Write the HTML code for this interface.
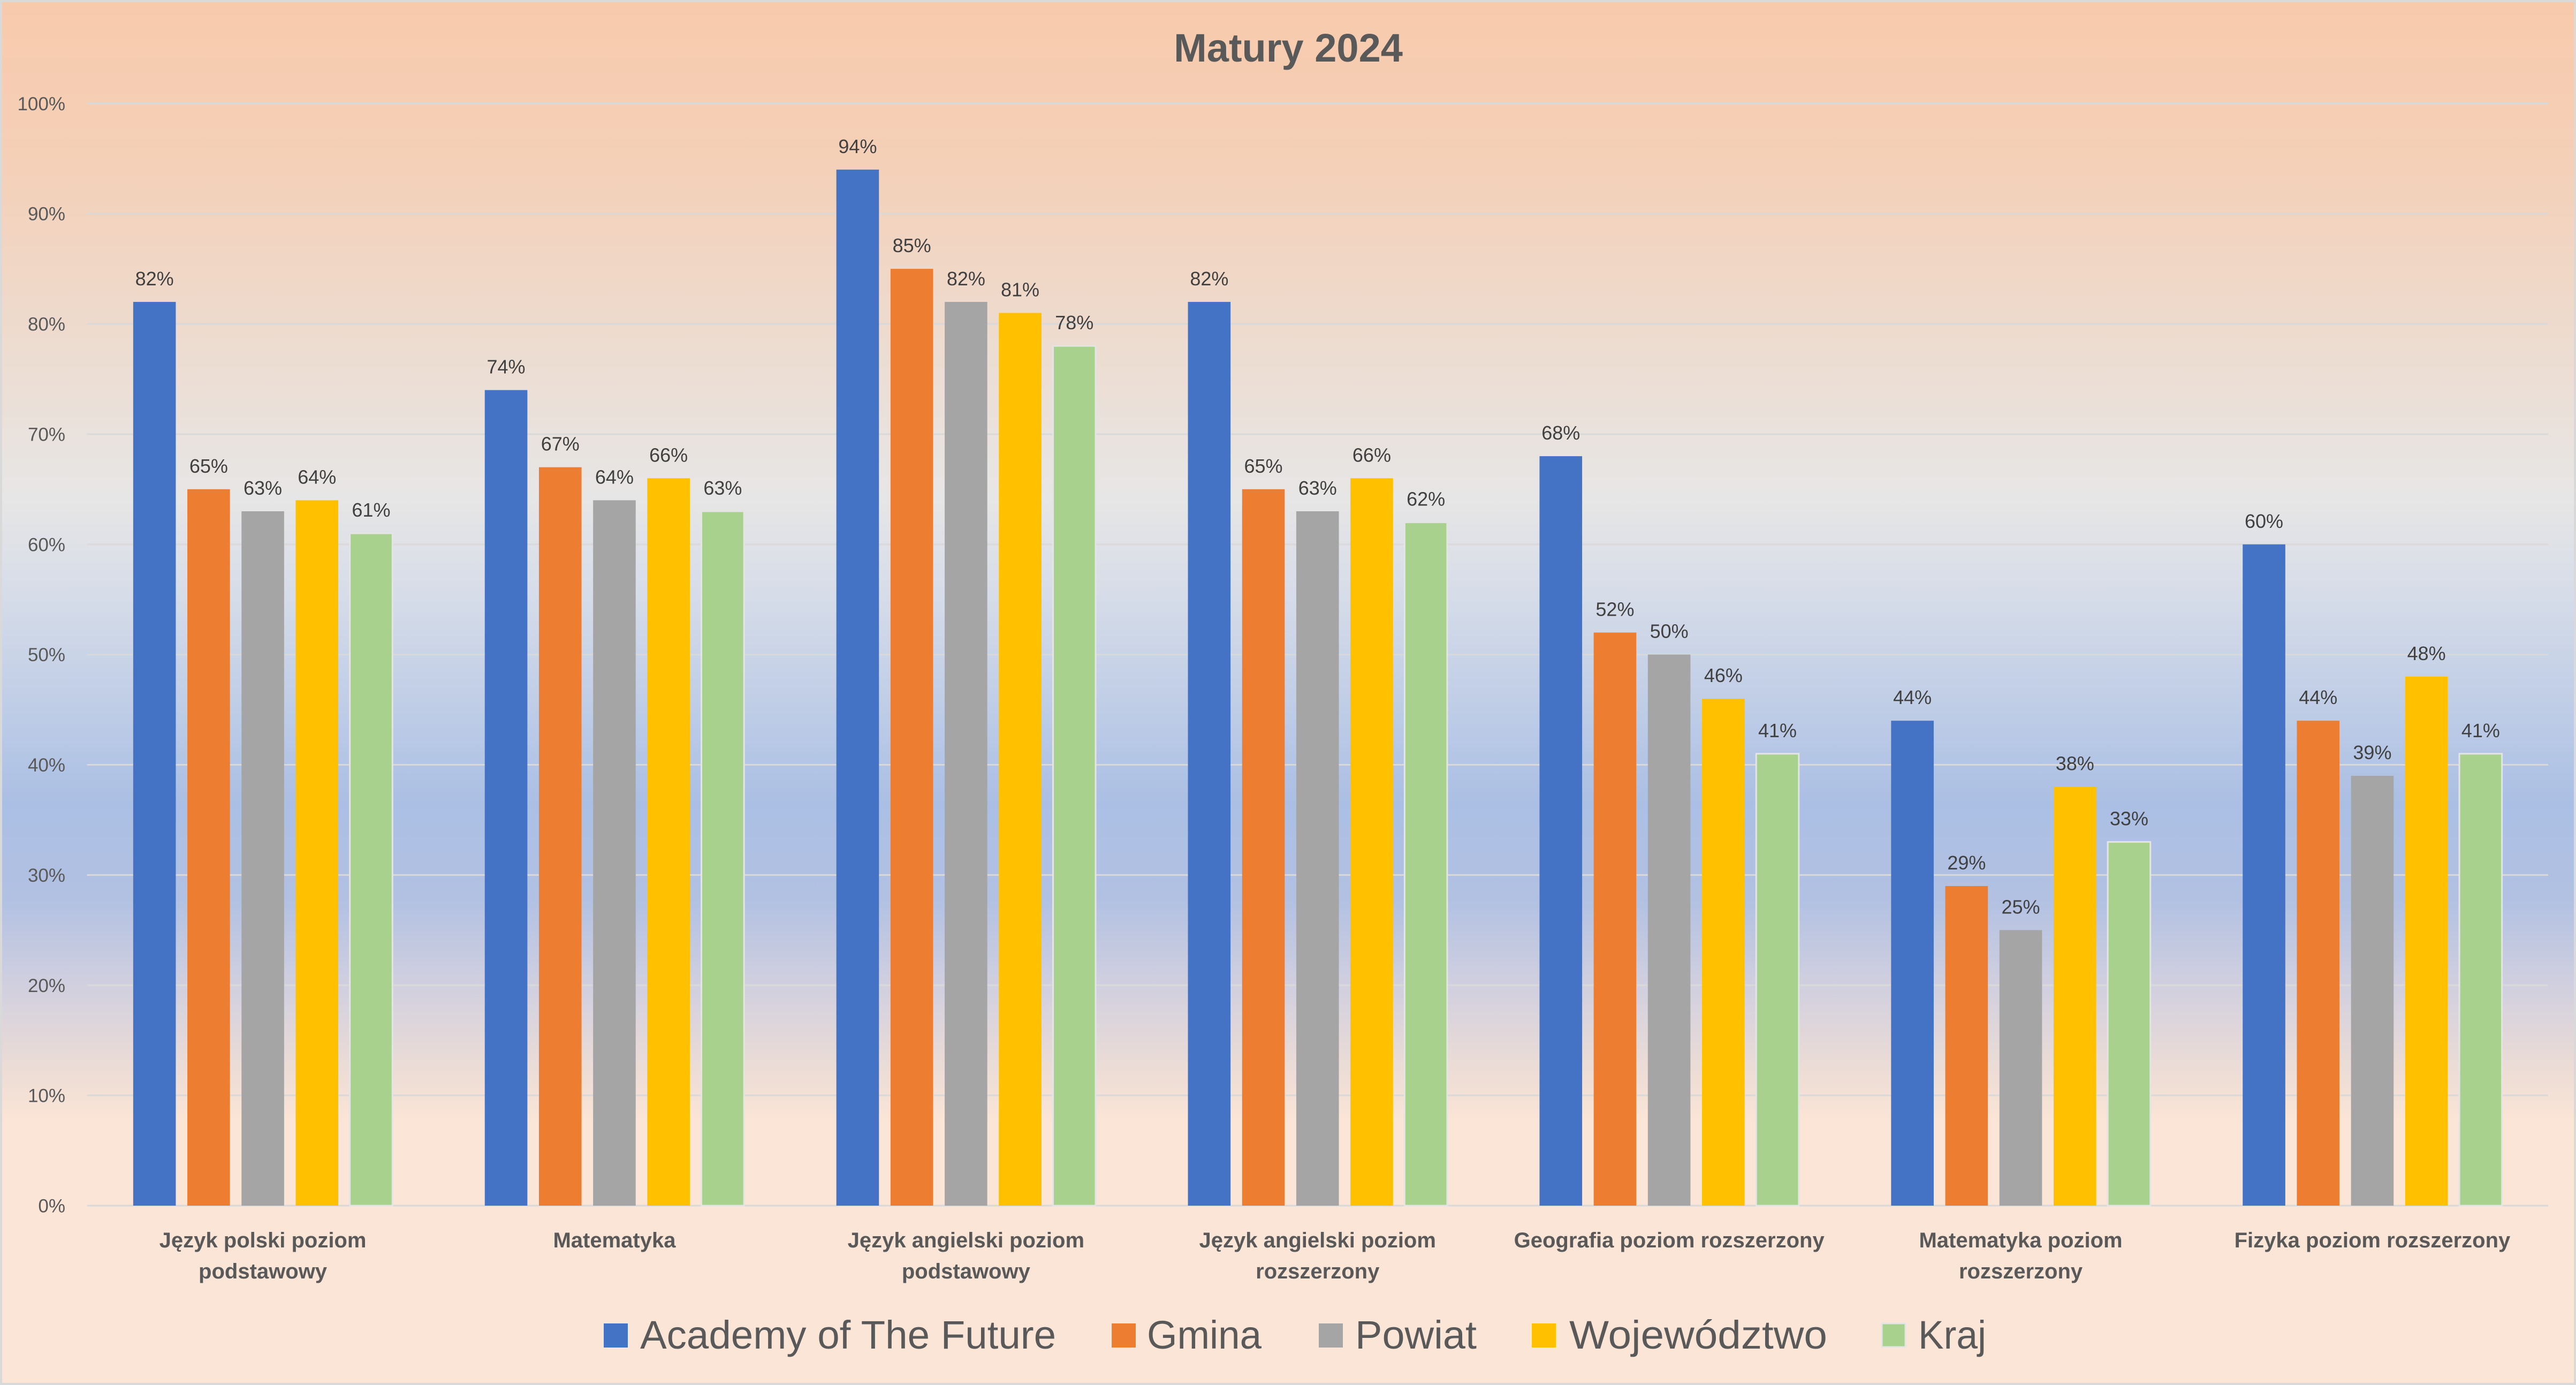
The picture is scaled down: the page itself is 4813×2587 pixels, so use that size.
<!DOCTYPE html>
<html><head><meta charset="utf-8"><style>
html,body{margin:0;padding:0;background:#fbe5d6;}
svg{display:block;}
text{font-family:"Liberation Sans",sans-serif;}
</style></head><body>
<svg xmlns="http://www.w3.org/2000/svg" width="4813" height="2587" viewBox="0 0 4813 2587">
<defs>
<linearGradient id="bg" x1="0" y1="0" x2="0" y2="1">
<stop offset="0" stop-color="#f8caac"/>
<stop offset="0.12" stop-color="#f4d0b8"/>
<stop offset="0.25" stop-color="#eddcd0"/>
<stop offset="0.36" stop-color="#e7e6e6"/>
<stop offset="0.43" stop-color="#d6dce8"/>
<stop offset="0.52" stop-color="#bccbe6"/>
<stop offset="0.58" stop-color="#abbfe4"/>
<stop offset="0.65" stop-color="#b2c1e2"/>
<stop offset="0.71" stop-color="#d0cfdf"/>
<stop offset="0.77" stop-color="#ebdcd6"/>
<stop offset="0.81" stop-color="#fbe5d6"/>
<stop offset="1" stop-color="#fbe5d6"/>
</linearGradient>
</defs>
<rect x="0" y="0" width="4813" height="2587" fill="url(#bg)"/>
<rect x="2" y="2" width="4809" height="2583" fill="none" stroke="#d9d9d9" stroke-width="4"/>

<text x="2407" y="115" font-size="74" font-weight="bold" fill="#595959" text-anchor="middle">Matury 2024</text>

<g stroke="#d9d9d9" stroke-width="3">
<line x1="162.6" x2="4761" y1="193.3" y2="193.3"/>
<line x1="162.6" x2="4761" y1="399.2" y2="399.2"/>
<line x1="162.6" x2="4761" y1="605.0" y2="605.0"/>
<line x1="162.6" x2="4761" y1="810.9" y2="810.9"/>
<line x1="162.6" x2="4761" y1="1016.8" y2="1016.8"/>
<line x1="162.6" x2="4761" y1="1222.7" y2="1222.7"/>
<line x1="162.6" x2="4761" y1="1428.5" y2="1428.5"/>
<line x1="162.6" x2="4761" y1="1634.4" y2="1634.4"/>
<line x1="162.6" x2="4761" y1="1840.3" y2="1840.3"/>
<line x1="162.6" x2="4761" y1="2046.1" y2="2046.1"/>
<line x1="162.6" x2="4761" y1="2252" y2="2252"/>
</g>

<g font-size="35" fill="#595959" text-anchor="end">
<text x="122" y="205.8">100%</text>
<text x="122" y="411.7">90%</text>
<text x="122" y="617.5">80%</text>
<text x="122" y="823.4">70%</text>
<text x="122" y="1029.3">60%</text>
<text x="122" y="1235.2">50%</text>
<text x="122" y="1441.0">40%</text>
<text x="122" y="1646.9">30%</text>
<text x="122" y="1852.8">20%</text>
<text x="122" y="2058.6">10%</text>
<text x="122" y="2264.5">0%</text>
</g>

<!-- Bars -->
<g>
<rect x="248.85" y="563.9" width="79.6" height="1688.1" fill="#4472c4"/>
<rect x="350.05" y="913.8" width="79.6" height="1338.2" fill="#ed7d31"/>
<rect x="451.25" y="955.0" width="79.6" height="1297.0" fill="#a5a5a5"/>
<rect x="552.45" y="934.4" width="79.6" height="1317.6" fill="#ffc000"/>
<rect x="653.65" y="996.2" width="79.6" height="1255.8" fill="#a9d18e" stroke="#e4e4e4" stroke-width="3"/>

<rect x="905.75" y="728.6" width="79.6" height="1523.4" fill="#4472c4"/>
<rect x="1006.95" y="872.7" width="79.6" height="1379.3" fill="#ed7d31"/>
<rect x="1108.15" y="934.4" width="79.6" height="1317.6" fill="#a5a5a5"/>
<rect x="1209.35" y="893.3" width="79.6" height="1358.7" fill="#ffc000"/>
<rect x="1310.55" y="955.0" width="79.6" height="1297.0" fill="#a9d18e" stroke="#e4e4e4" stroke-width="3"/>

<rect x="1562.65" y="316.8" width="79.6" height="1935.2" fill="#4472c4"/>
<rect x="1663.85" y="502.1" width="79.6" height="1749.9" fill="#ed7d31"/>
<rect x="1765.05" y="563.9" width="79.6" height="1688.1" fill="#a5a5a5"/>
<rect x="1866.25" y="584.5" width="79.6" height="1667.5" fill="#ffc000"/>
<rect x="1967.45" y="646.2" width="79.6" height="1605.8" fill="#a9d18e" stroke="#e4e4e4" stroke-width="3"/>

<rect x="2219.55" y="563.9" width="79.6" height="1688.1" fill="#4472c4"/>
<rect x="2320.75" y="913.8" width="79.6" height="1338.2" fill="#ed7d31"/>
<rect x="2421.95" y="955.0" width="79.6" height="1297.0" fill="#a5a5a5"/>
<rect x="2523.15" y="893.3" width="79.6" height="1358.7" fill="#ffc000"/>
<rect x="2624.35" y="975.6" width="79.6" height="1276.4" fill="#a9d18e" stroke="#e4e4e4" stroke-width="3"/>

<rect x="2876.45" y="852.1" width="79.6" height="1399.9" fill="#4472c4"/>
<rect x="2977.65" y="1181.5" width="79.6" height="1070.5" fill="#ed7d31"/>
<rect x="3078.85" y="1222.6" width="79.6" height="1029.4" fill="#a5a5a5"/>
<rect x="3180.05" y="1305.0" width="79.6" height="947.0" fill="#ffc000"/>
<rect x="3281.25" y="1407.9" width="79.6" height="844.1" fill="#a9d18e" stroke="#e4e4e4" stroke-width="3"/>

<rect x="3533.35" y="1346.2" width="79.6" height="905.8" fill="#4472c4"/>
<rect x="3634.55" y="1655.0" width="79.6" height="597.0" fill="#ed7d31"/>
<rect x="3735.75" y="1737.3" width="79.6" height="514.7" fill="#a5a5a5"/>
<rect x="3836.95" y="1469.7" width="79.6" height="782.3" fill="#ffc000"/>
<rect x="3938.15" y="1572.6" width="79.6" height="679.4" fill="#a9d18e" stroke="#e4e4e4" stroke-width="3"/>

<rect x="4190.25" y="1016.8" width="79.6" height="1235.2" fill="#4472c4"/>
<rect x="4291.45" y="1346.2" width="79.6" height="905.8" fill="#ed7d31"/>
<rect x="4392.65" y="1449.1" width="79.6" height="802.9" fill="#a5a5a5"/>
<rect x="4493.85" y="1263.8" width="79.6" height="988.2" fill="#ffc000"/>
<rect x="4595.05" y="1407.9" width="79.6" height="844.1" fill="#a9d18e" stroke="#e4e4e4" stroke-width="3"/>
</g>

<!-- Data labels -->
<g font-size="36" fill="#404040" text-anchor="middle">
<text x="288.65" y="532.9">82%</text>
<text x="389.85" y="882.8">65%</text>
<text x="491.05" y="924.0">63%</text>
<text x="592.25" y="903.4">64%</text>
<text x="693.45" y="965.2">61%</text>

<text x="945.55" y="697.6">74%</text>
<text x="1046.75" y="841.7">67%</text>
<text x="1147.95" y="903.4">64%</text>
<text x="1249.15" y="862.3">66%</text>
<text x="1350.35" y="924.0">63%</text>

<text x="1602.45" y="285.8">94%</text>
<text x="1703.65" y="471.1">85%</text>
<text x="1804.85" y="532.9">82%</text>
<text x="1906.05" y="553.5">81%</text>
<text x="2007.25" y="615.2">78%</text>

<text x="2259.35" y="532.9">82%</text>
<text x="2360.55" y="882.8">65%</text>
<text x="2461.75" y="924.0">63%</text>
<text x="2562.95" y="862.3">66%</text>
<text x="2664.15" y="944.6">62%</text>

<text x="2916.25" y="821.1">68%</text>
<text x="3017.45" y="1150.5">52%</text>
<text x="3118.65" y="1191.6">50%</text>
<text x="3219.85" y="1274.0">46%</text>
<text x="3321.05" y="1376.9">41%</text>

<text x="3573.15" y="1315.2">44%</text>
<text x="3674.35" y="1624.0">29%</text>
<text x="3775.55" y="1706.3">25%</text>
<text x="3876.75" y="1438.7">38%</text>
<text x="3977.95" y="1541.6">33%</text>

<text x="4230.05" y="985.8">60%</text>
<text x="4331.25" y="1315.2">44%</text>
<text x="4432.45" y="1418.1">39%</text>
<text x="4533.65" y="1232.8">48%</text>
<text x="4634.85" y="1376.9">41%</text>
</g>

<!-- Category labels -->
<g font-size="40" font-weight="bold" fill="#595959" text-anchor="middle">
<text x="491.05" y="2330">Język polski poziom</text>
<text x="491.05" y="2388">podstawowy</text>
<text x="1147.95" y="2330">Matematyka</text>
<text x="1804.85" y="2330">Język angielski poziom</text>
<text x="1804.85" y="2388">podstawowy</text>
<text x="2461.75" y="2330">Język angielski poziom</text>
<text x="2461.75" y="2388">rozszerzony</text>
<text x="3118.65" y="2330">Geografia poziom rozszerzony</text>
<text x="3775.55" y="2330">Matematyka poziom</text>
<text x="3775.55" y="2388">rozszerzony</text>
<text x="4432.45" y="2330">Fizyka poziom rozszerzony</text>
</g>

<!-- Legend -->
<g font-size="74" fill="#595959">
<rect x="1128" y="2472" width="45" height="45" fill="#4472c4"/>
<text x="1196" y="2519" textLength="777" lengthAdjust="spacingAndGlyphs">Academy of The Future</text>
<rect x="2077" y="2472" width="45" height="45" fill="#ed7d31"/>
<text x="2143" y="2519" textLength="214" lengthAdjust="spacingAndGlyphs">Gmina</text>
<rect x="2464" y="2472" width="45" height="45" fill="#a5a5a5"/>
<text x="2532" y="2519" textLength="227" lengthAdjust="spacingAndGlyphs">Powiat</text>
<rect x="2862" y="2472" width="45" height="45" fill="#ffc000"/>
<text x="2932" y="2519" textLength="482" lengthAdjust="spacingAndGlyphs">Województwo</text>
<rect x="3516" y="2472" width="44" height="44" fill="#a9d18e" stroke="#e4e4e4" stroke-width="3"/>
<text x="3584" y="2519" textLength="127" lengthAdjust="spacingAndGlyphs">Kraj</text>
</g>
</svg>
</body></html>
